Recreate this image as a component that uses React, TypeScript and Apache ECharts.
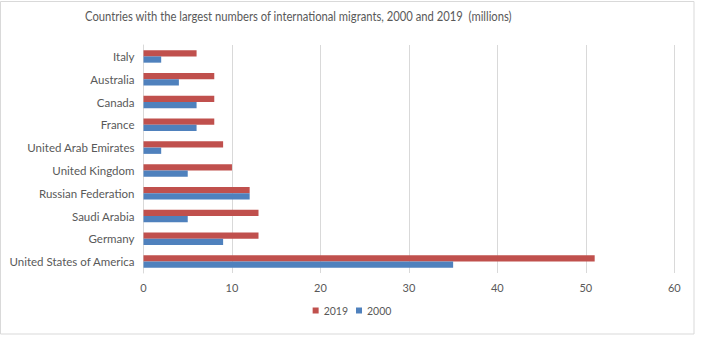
import React, { useEffect, useRef } from "react";
import * as echarts from "echarts";

const countries = [
  "United States of America",
  "Germany",
  "Saudi Arabia",
  "Russian Federation",
  "United Kingdom",
  "United Arab Emirates",
  "France",
  "Canada",
  "Australia",
  "Italy",
];
const values2019 = [51, 13, 13, 12, 10, 9, 8, 8, 8, 6];
const values2000 = [35, 9, 5, 12, 5, 2, 6, 6, 4, 2];
const xTicks = { min: 0, max: 60, interval: 10 };
const titleText =
  "Countries with the largest numbers of international migrants, 2000 and 2019  (millions)";

const FONT = "Lato, 'Open Sans', sans-serif";
const TEXT = "#595959";

export default function App() {
  const ref = useRef<HTMLDivElement>(null);
  useEffect(() => {
    if (!ref.current) return;
    const chart = echarts.init(ref.current, undefined, { renderer: "svg" });
    chart.setOption({
      animation: false,
      backgroundColor: "#ffffff",
      textStyle: { fontFamily: FONT },
      graphic: [
        {
          type: "rect",
          shape: { x: 0.5, y: 1.5, width: 693.5, height: 332.5 },
          style: { fill: "none", stroke: "#d9d9d9", lineWidth: 1 },
          silent: true,
        },
        {
          type: "text",
          x: 85,
          y: 16,
          scaleX: 0.865,
          silent: true,
          style: {
            text: titleText,
            font: "13px Lato, 'Open Sans', sans-serif",
            fill: TEXT,
            textAlign: "left",
            textVerticalAlign: "middle",
            verticalAlign: "middle",
          },
        },
      ],
      legend: {
        data: ["2019", "2000"],
        bottom: 31,
        left: "center",
        icon: "rect",
        itemWidth: 6,
        itemHeight: 6,
        itemGap: 8,
        textStyle: { fontFamily: FONT, fontSize: 10.5, color: TEXT },
      },
      grid: { left: 143.5, right: 29.7, top: 45, bottom: 79, containLabel: false },
      xAxis: {
        type: "value",
        min: xTicks.min,
        max: xTicks.max,
        interval: xTicks.interval,
        axisLine: { show: false },
        axisTick: { show: false },
        axisLabel: { fontFamily: FONT, fontSize: 11, color: TEXT, margin: 9 },
        splitLine: { show: true, lineStyle: { color: "#d9d9d9", width: 1 } },
      },
      yAxis: {
        type: "category",
        data: countries,
        axisLine: { show: true, lineStyle: { color: "#d9d9d9" } },
        axisTick: { show: false },
        axisLabel: { fontFamily: FONT, fontSize: 11.5, color: TEXT, margin: 9 },
      },
      series: [
        {
          name: "2019",
          type: "bar",
          data: values2019,
          itemStyle: { color: "#C0504D" },
          barGap: "0%",
          barCategoryGap: "45%",
        },
        {
          name: "2000",
          type: "bar",
          data: values2000,
          itemStyle: { color: "#4F81BD" },
          barGap: "0%",
          barCategoryGap: "45%",
        },
      ],
    });
    return () => chart.dispose();
  }, []);
  return (
    <div
      ref={ref}
      style={{ position: "fixed", left: 0, top: 0, width: 704, height: 352 }}
    />
  );
}
